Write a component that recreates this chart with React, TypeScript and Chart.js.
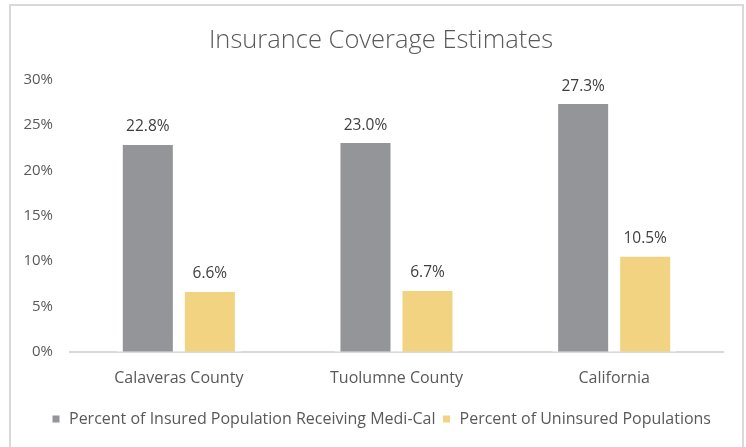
import React, { useEffect, useRef } from "react";
import { Chart, registerables } from "chart.js";

Chart.register(...registerables);

const categories = ["Calaveras County", "Tuolumne County", "California"];
const mediCalValues = [22.8, 23.0, 27.3];
const uninsuredValues = [6.6, 6.7, 10.5];
const seriesNames = [
  "Percent of Insured Population Receiving Medi-Cal",
  "Percent of Uninsured Populations",
];
const yTicks = [0, 5, 10, 15, 20, 25, 30];
const titleText = "Insurance Coverage Estimates";

const FONT = "'Open Sans', sans-serif";

const dataLabelPlugin = {
  id: "dataLabels",
  afterDatasetsDraw(chart: any) {
    const ctx = chart.ctx;
    ctx.save();
    ctx.font = `15.5px ${FONT}`;
    ctx.fillStyle = "#404040";
    ctx.textAlign = "center";
    ctx.textBaseline = "middle";
    chart.data.datasets.forEach((ds: any, di: number) => {
      const meta = chart.getDatasetMeta(di);
      meta.data.forEach((bar: any, i: number) => {
        const v = ds.data[i] as number;
        ctx.fillText(v.toFixed(1) + "%", bar.x, bar.y - 18);
      });
    });
    ctx.restore();
  },
};

export default function App() {
  const ref = useRef<HTMLCanvasElement>(null);
  useEffect(() => {
    const chart = new Chart(ref.current!, {
      type: "bar",
      data: {
        labels: categories,
        datasets: [
          {
            label: seriesNames[0],
            data: mediCalValues,
            backgroundColor: "#939598",
            borderColor: "#ffffff",
            borderWidth: { left: 6, right: 6, top: 0, bottom: 0 },
            borderSkipped: false,
          },
          {
            label: seriesNames[1],
            data: uninsuredValues,
            backgroundColor: "#f2d382",
            borderColor: "#ffffff",
            borderWidth: { left: 6, right: 6, top: 0, bottom: 0 },
            borderSkipped: false,
          },
        ],
      },
      options: {
        animation: false,
        responsive: false,
        maintainAspectRatio: false,
        layout: { padding: { left: 20, right: 4, top: 18, bottom: 10 } },
        datasets: {
          bar: { categoryPercentage: 0.57, barPercentage: 1 },
        } as any,
        scales: {
          x: {
            z: 1,
            grid: { display: false, drawTicks: false },
            border: { display: true, color: "#d9d9d9", width: 2 },
            ticks: { color: "#595959", font: { family: FONT, size: 16 }, padding: 17 },
          },
          y: {
            min: 0,
            max: 30,
            afterBuildTicks(axis: any) {
              axis.ticks = yTicks.map((v) => ({ value: v }));
            },
            afterFit(axis: any) {
              axis.width = 50;
            },
            grid: { display: false, drawTicks: false },
            border: { display: false },
            ticks: {
              color: "#595959",
              font: { family: FONT, size: 15 },
              padding: 17,
              callback: (v: any) => v + "%",
            },
          },
          yRight: {
            type: "linear",
            position: "right",
            display: true,
            min: 0,
            max: 30,
            afterFit(axis: any) {
              axis.width = 19;
            },
            grid: { display: false, drawTicks: false },
            border: { display: false },
            ticks: { display: false },
          },
        },
        plugins: {
          title: {
            display: true,
            text: titleText,
            color: "#595959",
            font: { family: FONT, size: 25.5, weight: "300" as any },
            padding: { top: 7, bottom: 24 },
          },
          legend: {
            position: "bottom",
            labels: {
              color: "#595959",
              font: { family: FONT, size: 16 },
              boxWidth: 10,
              boxHeight: 10,
              padding: 6,
            },
          },
          tooltip: { enabled: false },
        },
      },
      plugins: [dataLabelPlugin],
    });
    return () => chart.destroy();
  }, []);
  return (
    <div style={{ position: "fixed", left: 0, top: 0, width: 746, height: 447, background: "#fff", overflow: "hidden" }}>
      <div
        style={{
          position: "absolute",
          left: 9,
          top: 4,
          width: 731,
          height: 460,
          border: "2px solid #d9d9d9",
        }}
      />
      <canvas ref={ref} width={746} height={447} style={{ position: "absolute", left: 0, top: 0 }} />
    </div>
  );
}
